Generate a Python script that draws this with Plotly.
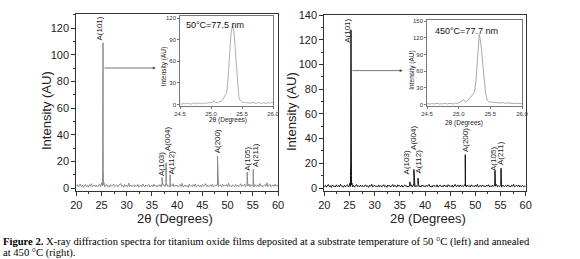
import numpy as np
import plotly.graph_objects as go

# ---------------- data ----------------
# baseline noise sampled every 0.2 deg from 20 to 60 (201 values)
base_left = [
    1.2, 2.5, 0.8, 1.9, 3.1, 1.0, 2.2, 0.6, 1.7, 2.8, 1.1, 2.0, 0.7, 2.6, 1.4, 3.3, 0.9, 1.8, 2.4, 1.0,
    2.1, 0.8, 1.6, 2.9, 1.2, 3.6, 1.5, 2.3, 0.9, 1.9, 2.7, 1.1, 1.8, 0.7, 2.5, 1.4, 2.0, 3.0, 1.0, 1.7,
    2.4, 0.9, 1.5, 2.2, 3.4, 1.1, 1.9, 0.6, 2.6, 1.3, 2.0, 0.8, 3.8, 1.2, 2.3, 1.0, 1.7, 2.5, 0.9, 2.1,
    1.4, 2.8, 0.7, 1.9, 2.2, 1.1, 3.1, 1.6, 0.8, 2.4, 1.3, 1.9, 2.7, 0.9, 1.5, 2.3, 1.0, 2.9, 1.4, 2.0,
    0.8, 2.2, 1.5, 2.6, 1.0, 3.0, 1.7, 2.4, 1.2, 2.0, 2.8, 1.1, 1.9, 0.7, 2.5, 1.6, 3.2, 1.0, 2.1, 1.4,
    2.3, 0.9, 1.8, 2.7, 1.2, 3.5, 0.8, 1.6, 2.4, 1.1, 2.0, 0.6, 2.9, 1.5, 1.9, 1.0, 2.6, 1.3, 3.1, 0.9,
    1.7, 2.4, 1.0, 2.1, 0.7, 2.8, 1.4, 1.9, 3.3, 1.1, 2.2, 0.8, 1.6, 2.5, 1.2, 2.9, 0.9, 1.8, 2.3, 1.5,
    2.6, 1.0, 1.9, 2.4, 0.8, 3.0, 1.3, 2.1, 1.6, 2.7, 1.0, 3.7, 1.4, 2.0, 0.9, 2.5, 1.7, 1.1, 2.8, 1.3,
    2.2, 0.9, 1.8, 3.2, 1.2, 2.4, 1.5, 2.9, 1.0, 2.1, 1.6, 3.0, 1.1, 2.6, 1.4, 2.0, 0.8, 2.7, 1.9, 1.2,
    2.5, 1.0, 3.4, 1.7, 2.2, 0.9, 1.8, 2.6, 1.3, 3.9, 1.1, 2.0, 2.8, 1.0, 1.6, 2.4, 1.2, 2.9, 1.5, 2.0,
    1.4,
]
base_right = [
    1.0, 2.2, 0.7, 1.6, 2.8, 1.1, 1.9, 0.5, 2.4, 1.3, 1.8, 0.8, 2.6, 1.2, 2.0, 0.9, 3.0, 1.4, 1.7, 0.6,
    2.3, 1.0, 1.5, 2.7, 0.8, 1.9, 1.2, 2.5, 1.0, 2.1, 0.7, 1.6, 2.9, 1.1, 1.8, 0.9, 2.4, 1.3, 2.0, 0.8,
    1.7, 2.6, 1.0, 1.9, 0.6, 2.2, 1.4, 3.1, 0.9, 1.8, 2.3, 1.1, 1.6, 0.7, 2.5, 1.2, 2.0, 0.8, 1.9, 2.7,
    1.1, 1.8, 0.6, 2.4, 1.3, 2.0, 0.9, 1.7, 2.8, 1.0, 2.2, 1.4, 0.8, 2.6, 1.5, 1.9, 1.0, 2.3, 0.7, 1.8,
    2.5, 1.2, 1.9, 0.8, 2.1, 1.5, 2.7, 1.0, 1.6, 2.3, 0.9, 2.0, 1.3, 2.8, 1.1, 1.7, 0.8, 2.4, 1.4, 2.0,
    0.9, 2.2, 1.5, 1.8, 2.9, 1.0, 1.6, 0.7, 2.3, 1.4, 2.0, 1.1, 2.6, 0.8, 1.9, 2.4, 1.2, 1.7, 0.9, 2.5,
    1.3, 2.0, 0.8, 2.7, 1.5, 1.9, 1.0, 2.3, 0.7, 1.8, 3.0, 1.2, 1.6, 2.2, 0.9, 2.5, 1.4, 1.9, 1.1, 2.1,
    1.6, 0.9, 2.4, 1.3, 2.0, 0.8, 2.6, 1.5, 1.8, 1.0, 2.3, 1.2, 2.9, 0.9, 1.7, 2.1, 1.0, 2.5, 1.4, 1.9,
    0.8, 2.2, 1.6, 2.7, 1.1, 1.8, 0.9, 2.4, 1.3, 2.0, 1.5, 2.8, 1.0, 1.9, 1.2, 2.3, 0.7, 2.1, 1.6, 1.3,
    2.0, 1.1, 2.6, 1.4, 1.8, 0.8, 2.3, 1.5, 2.9, 1.0, 1.7, 2.2, 1.2, 2.5, 0.9, 1.8, 1.4, 2.1, 1.0, 1.6,
    1.2,
]
base_two_theta = np.linspace(20, 60, 201)

# diffraction peak profiles (2theta, intensity)
peak_two_theta = [25.1, 25.2, 25.25, 25.3, 25.35, 25.4, 25.5,
                  36.95, 37.0, 37.05, 37.75, 37.8, 37.85, 38.55, 38.6, 38.65,
                  47.95, 48.0, 48.05, 53.85, 53.9, 53.95, 55.05, 55.1, 55.15]
peak_left = [4, 9, 20, 109, 14, 7, 4,
             2, 8, 2, 3, 19, 3, 2, 10, 2,
             3, 24, 3, 2, 12, 3, 3, 14, 2]
peak_right = [4, 10, 22, 128, 18, 8, 4,
              2, 5, 2, 3, 15, 3, 2, 8, 2,
              3, 27, 3, 2, 14, 3, 3, 16, 2]

# insets: zoom on the (101) reflection, every 0.025 deg from 24.5 to 26.0
inset_two_theta = np.linspace(24.5, 26.0, 61)
inset_left = [
    1, 0.5, 1.5, 1, 2, 1, 1.5, 0.5, 1.5, 2, 1, 2.5, 1.5, 2, 1, 2, 2.5, 1.5, 2, 3,
    2, 3.5, 5, 3, 2.5, 3.5, 4, 5, 8, 13, 15, 35, 70, 100, 110, 98, 65, 30, 10, 5,
    3, 3.5, 2.5, 3, 2, 2.5, 2, 3, 2, 1.5, 2.5, 3, 2, 1.5, 2.5, 2, 1.5, 3, 2, 2.5,
    3,
]
inset_right = [
    1, 1.5, 0.5, 2, 1, 1.5, 1, 2, 0.5, 1.5, 1, 2, 1.5, 1, 2, 1.5, 2, 1, 2.5, 2,
    3, 5, 7, 8, 6, 5, 8, 12, 14, 18, 22, 45, 90, 126, 110, 75, 50, 20, 8, 5,
    4, 4.5, 3.5, 4, 3, 3.5, 2.5, 3, 3.5, 2.5, 2, 3, 2.5, 2, 2.5, 1.5, 2, 2.5, 2, 1.5,
    2,
]

peak_labels = ["A(101)", "A(103)", "A(004)", "A(112)", "A(200)", "A(105)", "A(211)"]
label_pos_left = [(24.7, 119.6), (36.8, 18), (37.96, 36.7), (38.95, 19), (47.9, 35), (53.8, 21.7), (55.4, 24.7)]
label_pos_right = [(24.45, 127), (36.4, 20.6), (37.7, 40.9), (38.7, 21.8), (47.95, 38.8), (53.7, 23.5), (55.0, 27.9)]

inset_titles = ["50°C=77.5 nm", "450°C=77.7 nm"]
caption1 = "<b>Figure 2.</b> X-ray diffraction spectra for titanium oxide films deposited at a substrate temperature of 50 °C (left) and annealed"
caption2 = "at 450 °C (right)."


def merge(bx, by, px, py):
    xs = np.concatenate([np.asarray(bx, float), np.asarray(px, float)])
    ys = np.concatenate([np.asarray(by, float), np.asarray(py, float)])
    order = np.argsort(xs, kind="stable")
    return xs[order], ys[order]


xl, yl = merge(base_two_theta, base_left, peak_two_theta, peak_left)
xr, yr = merge(base_two_theta, base_right, peak_two_theta, peak_right)

fig = go.Figure()
fig.add_trace(go.Scatter(x=xl, y=yl, mode="lines", line=dict(color="#8a8a8a", width=1),
                         xaxis="x", yaxis="y", showlegend=False))
fig.add_trace(go.Scatter(x=xr, y=yr, mode="lines", line=dict(color="#111111", width=1),
                         xaxis="x2", yaxis="y2", showlegend=False))
fig.add_trace(go.Scatter(x=inset_two_theta, y=inset_left, mode="lines", line=dict(color="#b0b0b0", width=1),
                         xaxis="x3", yaxis="y3", showlegend=False))
fig.add_trace(go.Scatter(x=inset_two_theta, y=inset_right, mode="lines", line=dict(color="#a8a8a8", width=1),
                         xaxis="x4", yaxis="y4", showlegend=False))

W, H = 580, 259
AX = "#333333"
SANS = "Liberation Sans, Arial, sans-serif"


def px_x(p):
    return p / W


def px_y(p):
    return 1 - p / H


def main_axis(domain, rng, dtick, minor):
    return dict(domain=domain, range=rng, dtick=dtick, showgrid=False, zeroline=False,
                showline=True, linecolor=AX, linewidth=1, mirror=True, automargin=False,
                ticks="outside", ticklen=4, tickcolor=AX, tickwidth=1,
                minor=dict(dtick=minor, ticks="outside", ticklen=2, tickcolor=AX),
                tickfont=dict(family=SANS, size=11, color="#222"))


def inset_axis(domain, rng, dtick, anchor, fmt=None):
    d = dict(domain=domain, range=rng, dtick=dtick, showgrid=False, zeroline=False,
             showline=True, linecolor="#555", linewidth=0.8, mirror=True, automargin=False,
             ticks="outside", ticklen=2, tickcolor="#555", tickwidth=0.8,
             tickfont=dict(family=SANS, size=6, color="#333"), anchor=anchor)
    if fmt:
        d["tickformat"] = fmt
        d["tick0"] = 24.5
    return d


xa = main_axis([px_x(76.3), px_x(278)], [20, 60], 5, 2.5); xa["anchor"] = "y"
ya = main_axis([px_y(191), px_y(14)], [-2.2, 130.5], 20, 10); ya["anchor"] = "x"
xa2 = main_axis([px_x(324.3), px_x(525.7)], [20, 60], 5, 2.5); xa2["anchor"] = "y2"
ya2 = main_axis([px_y(191), px_y(15)], [-2.4, 140], 20, 10); ya2["anchor"] = "x2"
xa3 = inset_axis([px_x(180), px_x(273)], [24.5, 26.0], 0.5, "y3", ".1f")
ya3 = inset_axis([px_y(106), px_y(16)], [-2, 122.8], 30, "x3")
xa4 = inset_axis([px_x(427), px_x(522)], [24.5, 26.0], 0.5, "y4", ".1f")
ya4 = inset_axis([px_y(106), px_y(20)], [-2.7, 151.8], 30, "x4")


def ptext(xp, yp, text, size, angle=0, xanchor="center", family=SANS, color="#222"):
    return dict(x=px_x(xp), y=px_y(yp), xref="paper", yref="paper", text=text, showarrow=False,
                textangle=angle, xanchor=xanchor, yanchor="middle",
                font=dict(family=family, size=size, color=color))


ann = []
# arrows from main peak to inset
ann.append(dict(x=35.8, y=90, ax=25.3, ay=90, xref="x", yref="y", axref="x", ayref="y",
                text="", showarrow=True, arrowhead=2, arrowsize=0.8, arrowwidth=0.8, arrowcolor="#555"))
ann.append(dict(x=35.6, y=95, ax=25.3, ay=95, xref="x2", yref="y2", axref="x2", ayref="y2",
                text="", showarrow=True, arrowhead=2, arrowsize=0.8, arrowwidth=0.8, arrowcolor="#555"))
# peak labels
for lab, (x, y) in zip(peak_labels, label_pos_left):
    ann.append(dict(x=x, y=y, xref="x", yref="y", text=lab, showarrow=False, textangle=-90,
                    xanchor="center", yanchor="middle", font=dict(family=SANS, size=8, color="#222")))
for lab, (x, y) in zip(peak_labels, label_pos_right):
    ann.append(dict(x=x, y=y, xref="x2", yref="y2", text=lab, showarrow=False, textangle=-90,
                    xanchor="center", yanchor="middle", font=dict(family=SANS, size=8, color="#222")))
# axis titles
for xp in (46, 291):
    ann.append(ptext(xp, 111, "Intensity (AU)", 13, angle=-90))
for xp in (175, 428):
    ann.append(ptext(xp, 218, "2θ (Degrees)", 13))
# inset titles
ann.append(ptext(184, 25, inset_titles[0], 9, xanchor="left", color="#111"))
ann.append(ptext(433, 31, inset_titles[1], 9, xanchor="left", color="#111"))
for xp, yp in ((228, 120), (464, 122.5)):
    ann.append(ptext(xp, yp, "2θ (Degrees)", 6.5))
for xp, yp in ((163.5, 66.7), (411.7, 70)):
    ann.append(ptext(xp, yp, "Intensity (AU)", 6.5, angle=-90))
# caption
SERIF = "Liberation Serif, Times New Roman, serif"
ann.append(ptext(1, 242, caption1, 10.6, xanchor="left", family=SERIF, color="#000"))
ann.append(ptext(1, 253, caption2, 10.6, xanchor="left", family=SERIF, color="#000"))

fig.update_layout(width=W, height=H, autosize=False, margin=dict(l=0, r=0, t=0, b=0, pad=0),
                  paper_bgcolor="white", plot_bgcolor="white",
                  xaxis=xa, yaxis=ya, xaxis2=xa2, yaxis2=ya2,
                  xaxis3=xa3, yaxis3=ya3, xaxis4=xa4, yaxis4=ya4,
                  annotations=ann)

fig.write_html("out.html", config=dict(displayModeBar=False, staticPlot=True),
               post_script="document.body.style.margin='0';document.body.style.padding='0';"
                           "document.documentElement.style.overflow='hidden';")
